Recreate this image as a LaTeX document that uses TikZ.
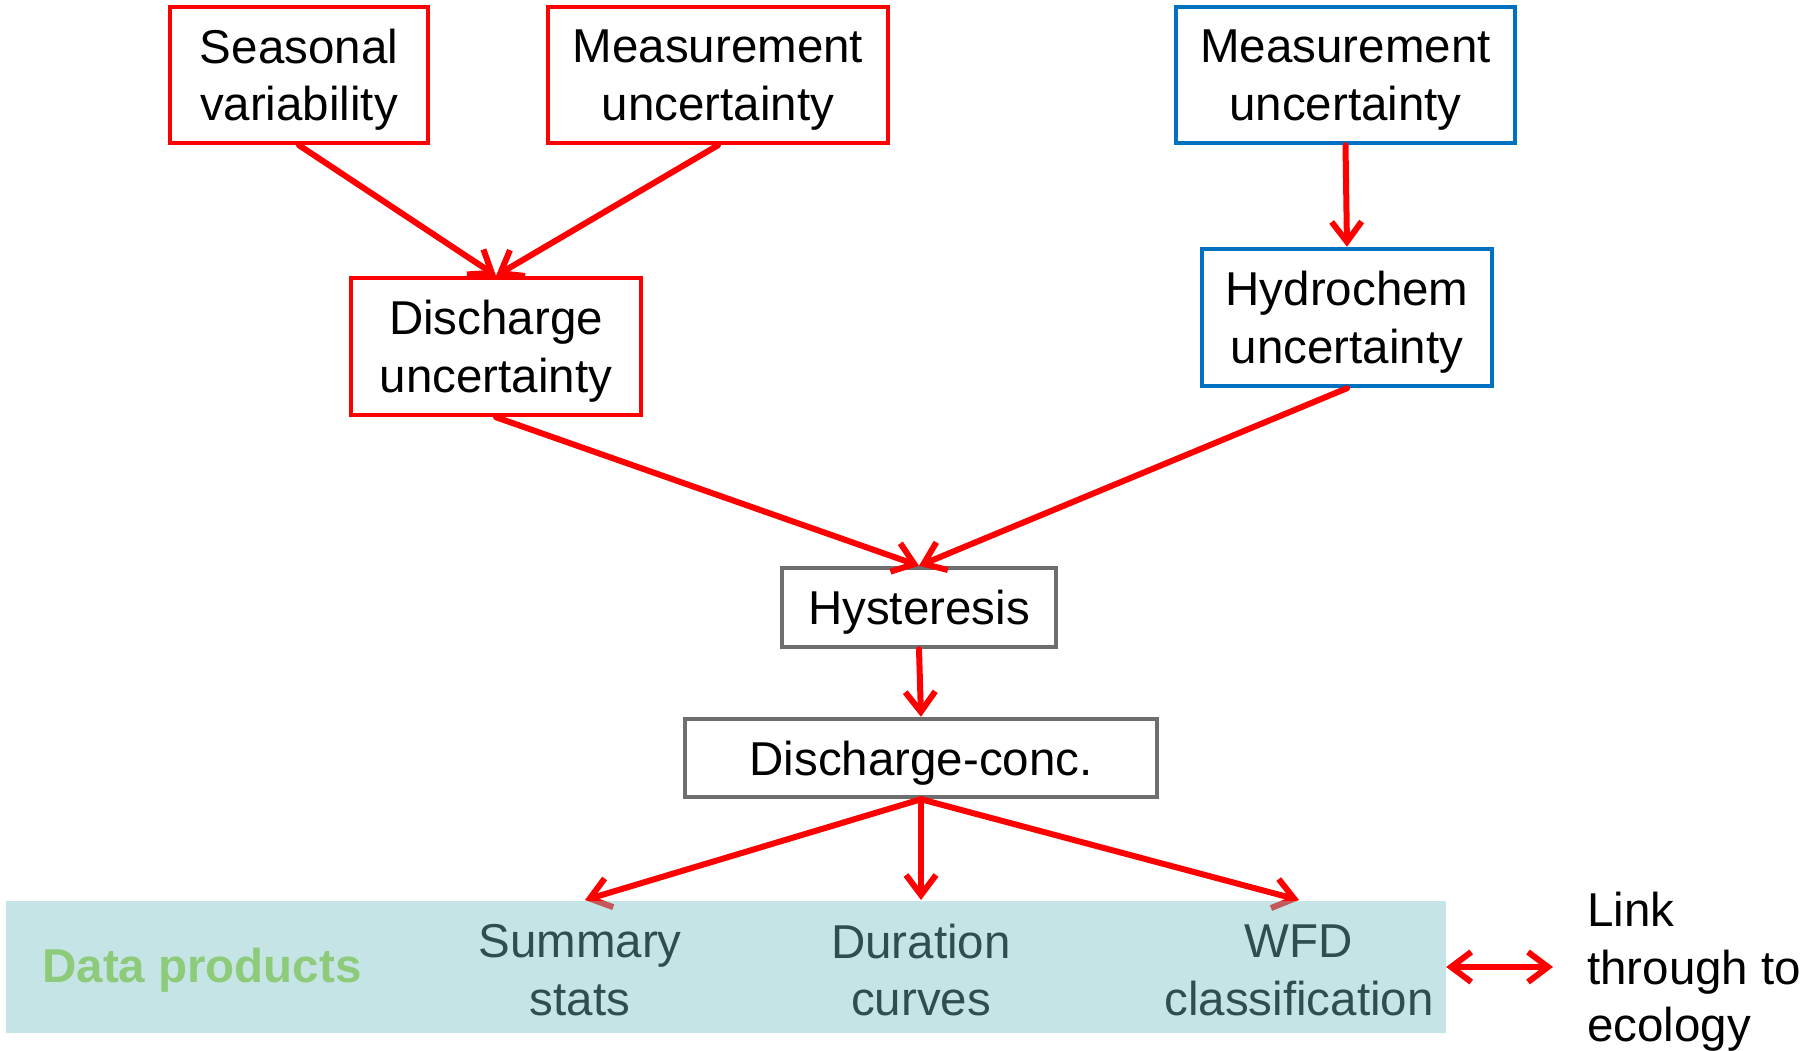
\documentclass[tikz,border=0pt]{standalone}
\usepackage{fontspec}
\setmainfont{Liberation Sans}
\usetikzlibrary{arrows.meta}

\definecolor{boxred}{RGB}{255,0,0}
\definecolor{boxblue}{RGB}{0,112,192}
\definecolor{boxgray}{RGB}{110,110,110}
\definecolor{barfill}{RGB}{127,196,200}
\definecolor{bartext}{RGB}{47,79,79}
\definecolor{prodgreen}{RGB}{141,203,122}

\begin{document}
\begin{tikzpicture}[x=1pt,y=-1pt,
  every node/.style={font=\fontsize{47.5}{57.5}\selectfont, align=center, inner sep=0pt, text depth=0pt},
  box/.style={draw, line width=4.5pt, fill=white},
  redbox/.style={box, draw=boxred},
  bluebox/.style={box, draw=boxblue},
  graybox/.style={box, draw=boxgray, line width=4.5pt},
  flow/.style={draw=boxred, line width=6pt, line cap=round, line join=round,
    -{Straight Barb[length=20pt,width=30pt]}},
  twoway/.style={draw=boxred, line width=6pt, line cap=round, line join=round,
    {Straight Barb[length=20pt,width=30pt]}-{Straight Barb[length=20pt,width=30pt]}},
  prodtext/.style={text=bartext}
]
\useasboundingbox (0,0) rectangle (1806,1051);

% uncertainty sources
\node[redbox, minimum width=258pt, minimum height=136pt] (sv) at (299,75) {Seasonal\\variability};
\node[redbox, minimum width=340pt, minimum height=136pt] (mr) at (718,75) {Measurement\\uncertainty};
\node[bluebox, minimum width=339pt, minimum height=136pt] (mb) at (1345.5,75) {Measurement\\uncertainty};
\node[bluebox, minimum width=290pt, minimum height=137pt] (hc) at (1347,317.5) {Hydrochem\\uncertainty};
\node[redbox, minimum width=290pt, minimum height=137pt] (du) at (496,346.5) {Discharge\\uncertainty};

% processing steps
\node[graybox, minimum width=274pt, minimum height=79pt] (hy) at (919,607.5) {Hysteresis};
\node[graybox, minimum width=472pt, minimum height=78pt] (dc) at (921,758) {Discharge-conc.};

% arrow targets on the products band
\coordinate (tss) at (585,900);
\coordinate (tdc) at (921,900);
\coordinate (twf) at (1299,900);

% connectors
\draw[flow] (sv.south) -- (du.north);
\draw[flow] (mr.south) -- (du.north);
\draw[flow] (mb.south) -- (hc.north);
\draw[flow] (du.south) -- (hy.north);
\draw[flow] (hc.south) -- (hy.north);
\draw[flow] (hy.south) -- (dc.north);
\draw[flow] (dc.south) -- (tss);
\draw[flow] (dc.south) -- (tdc);
\draw[flow] (dc.south) -- (twf);

% data products band
\node[fill=barfill, fill opacity=0.45, minimum width=1440pt, minimum height=132pt] (bar) at (726,967) {};
\node[text=prodgreen, font=\fontsize{47.5}{57.5}\selectfont\bfseries] (dp) at (202,965) {Data products};
\node[prodtext] (ss) at (580,970) {Summary\\stats};
\node[prodtext] (dcv) at (921,970) {Duration\\curves};
\node[prodtext] (wfd) at (1299,970) {WFD\\classification};

% link to ecology
\node[anchor=west, align=left] (eco) at (1587,967) {Link\\through to\\ecology};
\draw[twoway, shorten >=34pt] (bar.east) -- (eco.west);
\end{tikzpicture}
\end{document}
